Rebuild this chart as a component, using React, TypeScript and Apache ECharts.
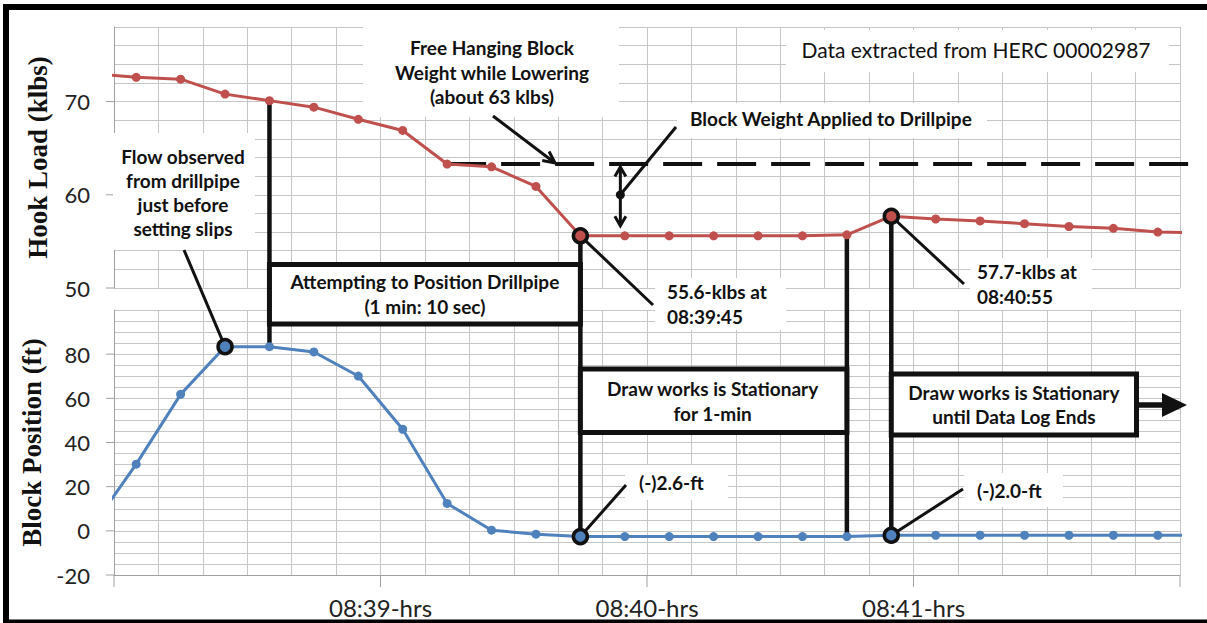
import * as echarts from "echarts";
import { useEffect, useRef } from "react";

// 10-second log samples (first and last fall just outside the plotted window)
const times = [
  "08:37:55", "08:38:05", "08:38:15", "08:38:25", "08:38:35", "08:38:45",
  "08:38:55", "08:39:05", "08:39:15", "08:39:25", "08:39:35", "08:39:45",
  "08:39:55", "08:40:05", "08:40:15", "08:40:25", "08:40:35", "08:40:45",
  "08:40:55", "08:41:05", "08:41:15", "08:41:25", "08:41:35", "08:41:45",
  "08:41:55", "08:42:05",
];
const hookLoad = [
  73.0, 72.6, 72.4, 70.8, 70.1, 69.4, 68.1, 66.9, 63.3, 63.0, 60.9, 55.6,
  55.6, 55.6, 55.6, 55.6, 55.6, 55.7, 57.7, 57.4, 57.2, 56.9, 56.6, 56.4,
  56.0, 55.9,
];
const blockPosition = [
  1.5, 30.2, 61.8, 83.4, 83.4, 81.0, 70.1, 46.0, 12.4, 0.3, -1.5, -2.6,
  -2.6, -2.6, -2.6, -2.6, -2.6, -2.6, -2.0, -2.0, -2.0, -2.0, -2.0, -2.0,
  -2.0, -2.0,
];

const minuteLabels = ["08:39-hrs", "08:40-hrs", "08:41-hrs"];
const minuteTicks = [0, 60, 120, 180, 240];
const hookTicks = [50, 60, 70];
const blockTicks = [-20, 0, 20, 40, 60, 80];
const freeHangingWeight = 63.3;
const markedHook = ["08:39:45", "08:40:55"];
const markedBlock = ["08:38:25", "08:39:45", "08:40:55"];
const drops = ["08:38:35", "08:39:45", "08:40:45", "08:40:55"];

const RED = "#c0504d";
const BLUE = "#4f81bd";
const INK = "#111";
const GRIDLINE = "#c6c6c6";
const AXIS = "#a0a0a0";
const SANS = 'Lato, "Open Sans", sans-serif';
const SERIF = '"Liberation Serif", "DejaVu Serif", serif';

const START = 8 * 3600 + 38 * 60;
const sec = (t: string) => {
  const [h, m, s] = t.split(":").map(Number);
  return h * 3600 + m * 60 + s - START;
};

const GRID_LEFT = 114;
const GRID_RIGHT = 1180;

function buildOption(): echarts.EChartsOption {
  const xBase = {
    type: "value" as const,
    min: 0,
    max: 240,
    interval: 10,
    axisTick: { show: false },
    splitLine: { show: true, lineStyle: { color: GRIDLINE, width: 1 } },
  };
  const yName = {
    nameLocation: "middle" as const,
    nameRotate: 90,
    nameGap: 63,
    nameTextStyle: { fontFamily: SERIF, fontWeight: "bold" as const, fontSize: 27, color: INK },
  };
  const highlight = (color: string) => ({
    symbolSize: 14,
    itemStyle: { color, borderColor: INK, borderWidth: 3.5 },
  });
  return {
    animation: false,
    backgroundColor: "#fff",
    grid: [
      { left: GRID_LEFT, top: 27, width: GRID_RIGHT - GRID_LEFT, height: 261 },
      { left: GRID_LEFT, top: 310, width: GRID_RIGHT - GRID_LEFT, height: 265 },
    ],
    xAxis: [
      {
        ...xBase,
        gridIndex: 0,
        axisLine: { show: false },
        axisLabel: { show: false },
      },
      {
        ...xBase,
        gridIndex: 1,
        axisLine: { show: true, onZero: false, lineStyle: { color: AXIS, width: 1 } },
        axisLabel: {
          formatter: (v: number) =>
            v % 60 === 0 && v > 0 && v < 240 ? minuteLabels[v / 60 - 1] : "",
          fontFamily: SANS,
          fontSize: 24,
          color: "#222",
          margin: 20,
        },
      },
    ],
    yAxis: [
      {
        type: "value",
        gridIndex: 0,
        min: 50,
        max: 78,
        interval: 2,
        name: "Hook Load (klbs)",
        ...yName,
        axisLine: { show: true, lineStyle: { color: AXIS } },
        axisTick: { show: false },
        axisLabel: {
          formatter: (v: number) => (hookTicks.includes(v) ? String(v) : ""),
          fontFamily: SANS,
          fontSize: 22,
          color: "#222",
          margin: 24,
        },
        splitLine: { show: true, lineStyle: { color: GRIDLINE } },
      },
      {
        type: "value",
        gridIndex: 1,
        min: -20,
        max: 100,
        interval: 5,
        name: "Block Position (ft)",
        ...yName,
        axisLine: { show: true, onZero: false, lineStyle: { color: AXIS } },
        axisTick: { show: false },
        axisLabel: {
          formatter: (v: number) => (blockTicks.includes(v) ? String(v) : ""),
          fontFamily: SANS,
          fontSize: 22,
          color: "#222",
          margin: 24,
        },
        splitLine: { show: true, lineStyle: { color: GRIDLINE } },
      },
    ],
    series: [
      {
        name: "Hook Load",
        type: "line",
        xAxisIndex: 0,
        yAxisIndex: 0,
        z: 3,
        symbol: "circle",
        symbolSize: 9,
        lineStyle: { color: RED, width: 3 },
        itemStyle: { color: RED },
        data: times.map((t, i) => ({
          value: [sec(t), hookLoad[i]],
          ...(markedHook.includes(t) ? highlight(RED) : {}),
        })),
      },
      {
        name: "Block Position",
        type: "line",
        xAxisIndex: 1,
        yAxisIndex: 1,
        z: 3,
        symbol: "circle",
        symbolSize: 9,
        lineStyle: { color: BLUE, width: 3 },
        itemStyle: { color: BLUE },
        data: times.map((t, i) => ({
          value: [sec(t), blockPosition[i]],
          ...(markedBlock.includes(t) ? highlight(BLUE) : {}),
        })),
      },
    ],
  };
}

function arrowArms(tx: number, ty: number, fx: number, fy: number, len = 11, spread = Math.PI / 7) {
  const a = Math.atan2(fy - ty, fx - tx);
  return [
    [tx + len * Math.cos(a + spread), ty + len * Math.sin(a + spread)],
    [tx, ty],
    [tx + len * Math.cos(a - spread), ty + len * Math.sin(a - spread)],
  ];
}

function buildGraphics(chart: echarts.ECharts) {
  const at = (g: number, x: number, v: number) =>
    chart.convertToPixel({ gridIndex: g }, [x, v]) as number[];
  const hookAt = (t: string) => at(0, sec(t), hookLoad[times.indexOf(t)]);
  const blockAt = (t: string) => at(1, sec(t), blockPosition[times.indexOf(t)]);

  const els: any[] = [];
  const whiteBox = (x: number, y: number, w: number, h: number) =>
    els.push({ type: "rect", z: 1, shape: { x, y, width: w, height: h }, style: { fill: "#fff" } });
  const line = (x1: number, y1: number, x2: number, y2: number, w = 3, extra = {}, color = INK) =>
    els.push({ type: "line", z: 1, shape: { x1, y1, x2, y2 }, style: { stroke: color, lineWidth: w, ...extra } });
  const poly = (points: number[][], w = 3) =>
    els.push({ type: "polyline", z: 1, shape: { points }, style: { stroke: INK, lineWidth: w, fill: null } });
  const text = (
    t: string,
    x: number,
    y: number,
    align: "left" | "center" | "right",
    font = `bold 19px ${SANS}`,
    lineHeight = 24.5,
  ) =>
    els.push({
      type: "text",
      z: 1,
      style: {
        text: t,
        x,
        y,
        align,
        verticalAlign: "middle",
        textAlign: align,
        textVerticalAlign: "middle",
        font,
        fill: INK,
        lineHeight,
      },
    });
  const framedBox = (x1: number, y1: number, x2: number, y2: number) =>
    els.push({
      type: "rect",
      z: 1,
      shape: { x: x1, y: y1, width: x2 - x1, height: y2 - y1 },
      style: { fill: "#fff", stroke: INK, lineWidth: 5 },
    });

  // major tick marks (outside the plot)
  hookTicks.forEach((v) => {
    const [x, y] = at(0, 0, v);
    line(x - 8, y, x, y, 1, {}, AXIS);
  });
  blockTicks.forEach((v) => {
    const [x, y] = at(1, 0, v);
    line(x - 8, y, x, y, 1, {}, AXIS);
  });
  minuteTicks.forEach((s) => {
    const [x, y] = at(1, s, -20);
    line(x, y, x, y + 12, 1, {}, AXIS);
  });

  // white backgrounds of the text boxes
  whiteBox(363, 27, 256, 90);
  whiteBox(786, 30, 383, 42);
  whiteBox(677, 103, 310, 35);
  whiteBox(GRID_LEFT - 1, 133, 142, 117);
  whiteBox(655, 278, 131, 52);
  whiteBox(970, 258, 122, 52);
  whiteBox(625, 465, 103, 35);
  whiteBox(964, 473, 99, 34);

  // free hanging block weight reference (dashed)
  const yFree = at(0, 0, freeHangingWeight)[1];
  line(hookAt("08:39:15")[0], yFree, GRID_RIGHT + 12, yFree, 4, { lineDash: [39, 15] });

  // drops from hook load point to block position point
  drops.forEach((t) => {
    const [x, yTop] = hookAt(t);
    const yBot = blockAt(t)[1];
    line(x, yTop, x, yBot, 4.5);
  });

  // status boxes
  const xA = hookAt("08:38:35")[0];
  const xB = hookAt("08:39:45")[0];
  const xC = hookAt("08:40:45")[0];
  const xD = hookAt("08:40:55")[0];
  framedBox(xA, 264.5, xB, 324);
  framedBox(xB, 369, xC, 432.5);
  framedBox(xD, 374, 1136.5, 435);
  text("Attempting to Position Drillpipe\n(1 min: 10 sec)", (xA + xB) / 2, 294, "center");
  text("Draw works is Stationary\nfor 1-min", (xB + xC) / 2 - 1, 401, "center");
  text("Draw works is Stationary\nuntil Data Log Ends", (xD + 1136.5) / 2, 404.5, "center");

  // arrow to the end of the log
  line(1136.5, 405, 1166, 405, 5.5);
  els.push({
    type: "polygon",
    z: 1,
    shape: { points: [[1162, 393], [1187, 405], [1162, 417]] },
    style: { fill: INK },
  });

  // double arrow between free hanging weight and applied weight
  const xArrow = at(0, sec("08:39:54"), 60)[0];
  const yArrowTop = yFree + 3;
  const yArrowBot = at(0, 0, 55.6)[1] - 10;
  const yDot = at(0, 0, 60)[1];
  line(xArrow, yArrowTop, xArrow, yArrowBot, 3);
  poly(arrowArms(xArrow, yArrowTop, xArrow, yArrowBot, 11, Math.PI / 6));
  poly(arrowArms(xArrow, yArrowBot, xArrow, yArrowTop, 11, Math.PI / 6));
  els.push({ type: "circle", z: 1, shape: { cx: xArrow, cy: yDot, r: 4.5 }, style: { fill: INK } });
  line(xArrow, yDot, 676, 127, 3);

  // free hanging arrow
  line(493, 116, 555, yFree - 1, 3);
  poly(arrowArms(555, yFree - 1, 493, 116, 13, Math.PI / 7));

  // leaders to labelled points
  const pFlow = blockAt("08:38:25");
  line(184, 250, pFlow[0], pFlow[1], 3);
  const p556 = hookAt("08:39:45");
  line(p556[0], p556[1], 653, 305, 3);
  const p577 = hookAt("08:40:55");
  line(p577[0], p577[1], 964, 284, 3);
  const p26 = blockAt("08:39:45");
  line(p26[0], p26[1], 626, 485, 3);
  const p20 = blockAt("08:40:55");
  line(p20[0], p20[1], 963, 489, 3);

  // annotation texts
  text("Free Hanging Block\nWeight while Lowering\n(about 63 klbs)", 492, 72, "center");
  text("Data extracted from HERC 00002987", 976, 49, "center", `21px ${SANS}`);
  text("Block Weight Applied to Drillpipe", 690, 118, "left");
  text("Flow observed\nfrom drillpipe\njust before\nsetting slips", 183, 192.5, "center", `bold 19px ${SANS}`, 24.3);
  text("55.6-klbs at\n08:39:45", 667, 304, "left");
  text("57.7-klbs at\n08:40:55", 977, 284, "left");
  text("(-)2.6-ft", 639, 482, "left");
  text("(-)2.0-ft", 977, 490, "left");

  // picture frame
  const frame = (x: number, y: number, w: number, h: number) =>
    els.push({ type: "rect", z: 10, shape: { x, y, width: w, height: h }, style: { fill: "#000" } });
  frame(3, 4, 6, 619);
  frame(3, 4, 1204, 6);
  frame(3, 619.5, 1204, 3.5);

  return els;
}

export default function App() {
  const chartRef = useRef<HTMLDivElement | null>(null);

  useEffect(() => {
    if (!chartRef.current) return;
    const chart = echarts.init(chartRef.current, undefined, { renderer: "svg" });
    chart.setOption(buildOption());
    chart.setOption({ graphic: { elements: buildGraphics(chart) } });
    return () => {
      chart.dispose();
    };
  }, []);

  return (
    <div
      ref={chartRef}
      style={{
        position: "absolute",
        left: 0,
        top: 0,
        width: 1207,
        height: 623,
        background: "#fff",
      }}
    />
  );
}
